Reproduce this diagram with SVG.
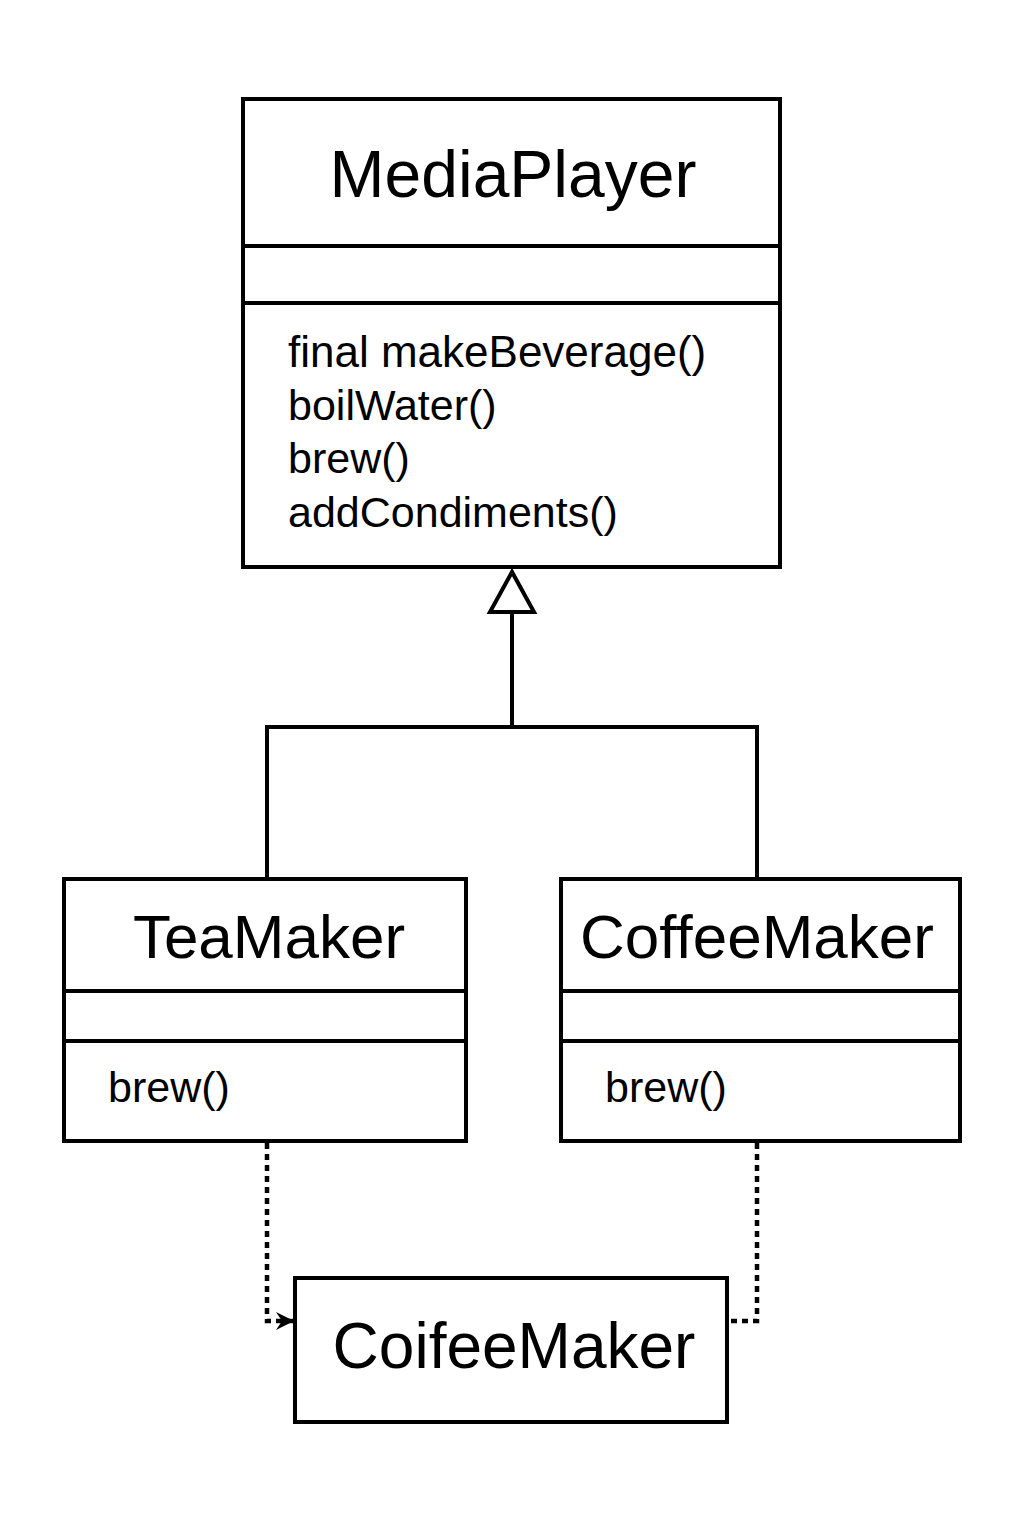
<svg xmlns="http://www.w3.org/2000/svg" width="1024" height="1536" viewBox="0 0 1024 1536">
<style>
.box{fill:#fff;stroke:#000;stroke-width:4}
.div{stroke:#000;stroke-width:4}
.t{font-family:"Liberation Sans",Arial,sans-serif;fill:#000}
.title{text-anchor:middle}
.m{font-size:43px}
.c{fill:none;stroke:#000;stroke-width:4}
.d{fill:none;stroke:#000;stroke-width:4.5;stroke-dasharray:6 5}
</style>
<defs>
<marker id="open" markerWidth="20" markerHeight="20" refX="18" refY="9" orient="auto" markerUnits="userSpaceOnUse">
<path d="M0,0 L18,9 L0,18 L6,9 Z" fill="#000"/>
</marker>
</defs>
<rect width="1024" height="1536" fill="#fff"/>
<g id="connectors">
<polyline class="c" points="267,879 267,727 757,727 757,879"/>
<line class="c" x1="512" y1="727" x2="512" y2="612"/>
<polygon points="512,572 490,612 534,612" fill="#fff" stroke="#000" stroke-width="4"/>
<polyline class="d" points="267,1143 267,1321 294,1321" marker-end="url(#open)"/>
<polyline class="d" points="757,1143 757,1321 729,1321"/>
</g>
<g id="MediaPlayer">
<rect class="box" x="243" y="99" width="537" height="468"/>
<line class="div" x1="243" y1="246" x2="780" y2="246"/>
<line class="div" x1="243" y1="303" x2="780" y2="303"/>
<text class="t title" x="513" y="197" style="font-size:66px">MediaPlayer</text>
<text class="t m" x="288" y="367" style="font-size:44px">final makeBeverage()</text>
<text class="t m" x="288" y="420">boilWater()</text>
<text class="t m" x="288" y="473">brew()</text>
<text class="t m" x="288" y="527">addCondiments()</text>
</g>
<g id="TeaMaker">
<rect class="box" x="64" y="879" width="402" height="262"/>
<line class="div" x1="64" y1="991" x2="466" y2="991"/>
<line class="div" x1="64" y1="1041" x2="466" y2="1041"/>
<text class="t title" x="269" y="958" style="font-size:62px">TeaMaker</text>
<text class="t m" x="108" y="1102">brew()</text>
</g>
<g id="CoffeeMaker">
<rect class="box" x="561" y="879" width="399" height="262"/>
<line class="div" x1="561" y1="991" x2="960" y2="991"/>
<line class="div" x1="561" y1="1041" x2="960" y2="1041"/>
<text class="t title" x="757" y="958" style="font-size:62px">CoffeeMaker</text>
<text class="t m" x="605" y="1102">brew()</text>
</g>
<g id="CoifeeMaker">
<rect class="box" x="295" y="1278" width="432" height="144"/>
<text class="t title" x="514" y="1368" style="font-size:64px">CoifeeMaker</text>
</g>
</svg>
